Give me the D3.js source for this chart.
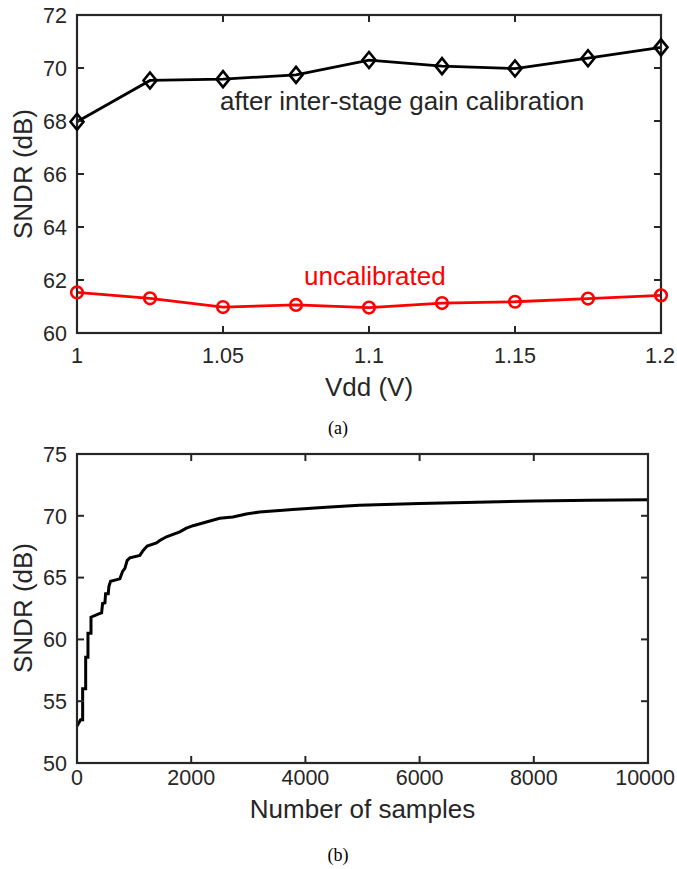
<!DOCTYPE html>
<html><head><meta charset="utf-8">
<script src="https://cdn.jsdelivr.net/npm/d3@7"></script>
<style>
html,body{margin:0;padding:0;background:#fff;}
svg{display:block;}
text{font-family:"Liberation Sans",Arial,Helvetica,sans-serif;}
</style></head>
<body>
<svg id="chart" width="677" height="869"></svg>
<script>
// ---- Data: panel (a) ----
const vdd = [1.0, 1.025, 1.05, 1.075, 1.1, 1.125, 1.15, 1.175, 1.2];
const sndrCalibrated = [67.97, 69.53, 69.58, 69.74, 70.3, 70.07, 69.98, 70.37, 70.78];
const sndrUncalibrated = [61.53, 61.31, 60.98, 61.06, 60.96, 61.13, 61.18, 61.3, 61.42];
const vddTicks = [1, 1.05, 1.1, 1.15, 1.2];
const vddTickLabels = ["1", "1.05", "1.1", "1.15", "1.2"];
const sndrTicksA = [60, 62, 64, 66, 68, 70, 72];

// ---- Data: panel (b) ----
const samples = [0, 63, 99, 99, 152, 152, 192, 192, 245, 245, 402, 431, 448, 489, 501, 547, 559, 588, 751, 798, 839, 879, 926, 1101, 1159, 1229, 1392, 1450, 1567, 1683, 1800, 1916, 2033, 2266, 2499, 2731, 2964, 3197, 3779, 4362, 4944, 6000, 7000, 8000, 9000, 10000];
const sndrConv = [53.0, 53.5, 53.5, 56.0, 56.0, 58.55, 58.55, 60.5, 60.5, 61.8, 62.1, 62.15, 62.9, 62.95, 63.7, 63.7, 64.3, 64.7, 64.9, 65.5, 65.75, 66.4, 66.6, 66.8, 67.2, 67.55, 67.8, 68.0, 68.3, 68.5, 68.7, 69.0, 69.2, 69.5, 69.8, 69.9, 70.15, 70.3, 70.5, 70.7, 70.85, 71.0, 71.1, 71.2, 71.25, 71.3];
const sampleTicks = [0, 2000, 4000, 6000, 8000, 10000];
const sndrTicksB = [50, 55, 60, 65, 70, 75];

const svg = d3.select("#chart");
const W = 677;
const axisColor = "#262626";
const tickFont = 21.5, labelFont = 26;

function frame(g, x, y, xTicks, xLabels, yTicks, xLabelY) {
  const [x0, x1] = x.range(), [y0, y1] = y.range();
  const tl = 7;
  xTicks.forEach(t => {
    g.append("line").attr("x1", x(t)).attr("x2", x(t)).attr("y1", y0).attr("y2", y0 - tl)
      .attr("stroke", axisColor).attr("stroke-width", 2);
    g.append("line").attr("x1", x(t)).attr("x2", x(t)).attr("y1", y1).attr("y2", y1 + tl)
      .attr("stroke", axisColor).attr("stroke-width", 2);
  });
  yTicks.forEach(t => {
    g.append("line").attr("x1", x0).attr("x2", x0 + tl).attr("y1", y(t)).attr("y2", y(t))
      .attr("stroke", axisColor).attr("stroke-width", 2);
    g.append("line").attr("x1", x1).attr("x2", x1 - tl).attr("y1", y(t)).attr("y2", y(t))
      .attr("stroke", axisColor).attr("stroke-width", 2);
  });
  g.append("rect").attr("x", x0).attr("y", y1).attr("width", x1 - x0).attr("height", y0 - y1)
    .attr("fill", "none").attr("stroke", axisColor).attr("stroke-width", 2.2);
  xTicks.forEach((t, i) => {
    const txt = g.append("text").attr("x", x(t)).attr("y", xLabelY).attr("text-anchor", "middle")
      .attr("font-size", tickFont).attr("fill", axisColor).text(xLabels[i]);
    const bb = txt.node().getBBox();
    if (bb.x + bb.width > W - 2) {
      txt.attr("text-anchor", "end").attr("x", W - 2);
    }
  });
  yTicks.forEach(t => {
    g.append("text").attr("x", x0 - 10).attr("y", y(t)).attr("dy", "0.36em").attr("text-anchor", "end")
      .attr("font-size", tickFont).attr("fill", axisColor).text(String(t));
  });
}

// ---- Panel (a) ----
const xa = d3.scaleLinear().domain([1, 1.2]).range([77, 661]);
const ya = d3.scaleLinear().domain([60, 72]).range([333, 15]);
const ga = svg.append("g");

const lineA = d3.line().x(d => xa(d[0])).y(d => ya(d[1]));
ga.append("path").datum(vdd.map((v, i) => [v, sndrCalibrated[i]]))
  .attr("d", lineA).attr("fill", "none").attr("stroke", "#000").attr("stroke-width", 2.8);
ga.append("path").datum(vdd.map((v, i) => [v, sndrUncalibrated[i]]))
  .attr("d", lineA).attr("fill", "none").attr("stroke", "#ff0000").attr("stroke-width", 2.8);

frame(ga, xa, ya, vddTicks, vddTickLabels, sndrTicksA, 363);

const dw = 6.5, dh = 8;
ga.selectAll(".dia").data(vdd.map((v, i) => [v, sndrCalibrated[i]])).enter().append("path")
  .attr("d", d => `M${xa(d[0])},${ya(d[1]) - dh}L${xa(d[0]) + dw},${ya(d[1])}L${xa(d[0])},${ya(d[1]) + dh}L${xa(d[0]) - dw},${ya(d[1])}Z`)
  .attr("fill", "none").attr("stroke", "#000").attr("stroke-width", 2.6);
ga.selectAll(".circ").data(vdd.map((v, i) => [v, sndrUncalibrated[i]])).enter().append("circle")
  .attr("cx", d => xa(d[0])).attr("cy", d => ya(d[1])).attr("r", 5.8)
  .attr("fill", "none").attr("stroke", "#ff0000").attr("stroke-width", 2.6);

ga.append("text").attr("x", 220).attr("y", 110).attr("font-size", labelFont).attr("fill", axisColor)
  .text("after inter-stage gain calibration");
ga.append("text").attr("x", 304).attr("y", 285).attr("font-size", labelFont).attr("fill", "#ff0000")
  .text("uncalibrated");
ga.append("text").attr("x", (77 + 661) / 2).attr("y", 396).attr("text-anchor", "middle")
  .attr("font-size", labelFont).attr("fill", axisColor).text("Vdd (V)");
ga.append("text").attr("transform", "translate(32,174) rotate(-90)").attr("text-anchor", "middle")
  .attr("font-size", labelFont).attr("fill", axisColor).text("SNDR (dB)");
svg.append("text").attr("x", 338).attr("y", 434).attr("text-anchor", "middle")
  .style("font-family", "'Liberation Serif','Times New Roman',serif")
  .attr("font-size", 18).attr("fill", "#000").text("(a)");

// ---- Panel (b) ----
const xb = d3.scaleLinear().domain([0, 10000]).range([77, 648]);
const yb = d3.scaleLinear().domain([50, 75]).range([763, 454]);
const gb = svg.append("g");
const lineB = d3.line().x(d => xb(d[0])).y(d => yb(d[1]));
gb.append("path").datum(samples.map((s, i) => [s, sndrConv[i]]))
  .attr("d", lineB).attr("fill", "none").attr("stroke", "#000").attr("stroke-width", 3)
  .attr("stroke-linejoin", "miter");
frame(gb, xb, yb, sampleTicks, sampleTicks.map(String), sndrTicksB, 785);
gb.append("text").attr("x", (77 + 648) / 2).attr("y", 818).attr("text-anchor", "middle")
  .attr("font-size", labelFont).attr("fill", axisColor).text("Number of samples");
gb.append("text").attr("transform", "translate(32,608) rotate(-90)").attr("text-anchor", "middle")
  .attr("font-size", labelFont).attr("fill", axisColor).text("SNDR (dB)");
svg.append("text").attr("x", 338).attr("y", 861).attr("text-anchor", "middle")
  .style("font-family", "'Liberation Serif','Times New Roman',serif")
  .attr("font-size", 18).attr("fill", "#000").text("(b)");
</script>
</body></html>
